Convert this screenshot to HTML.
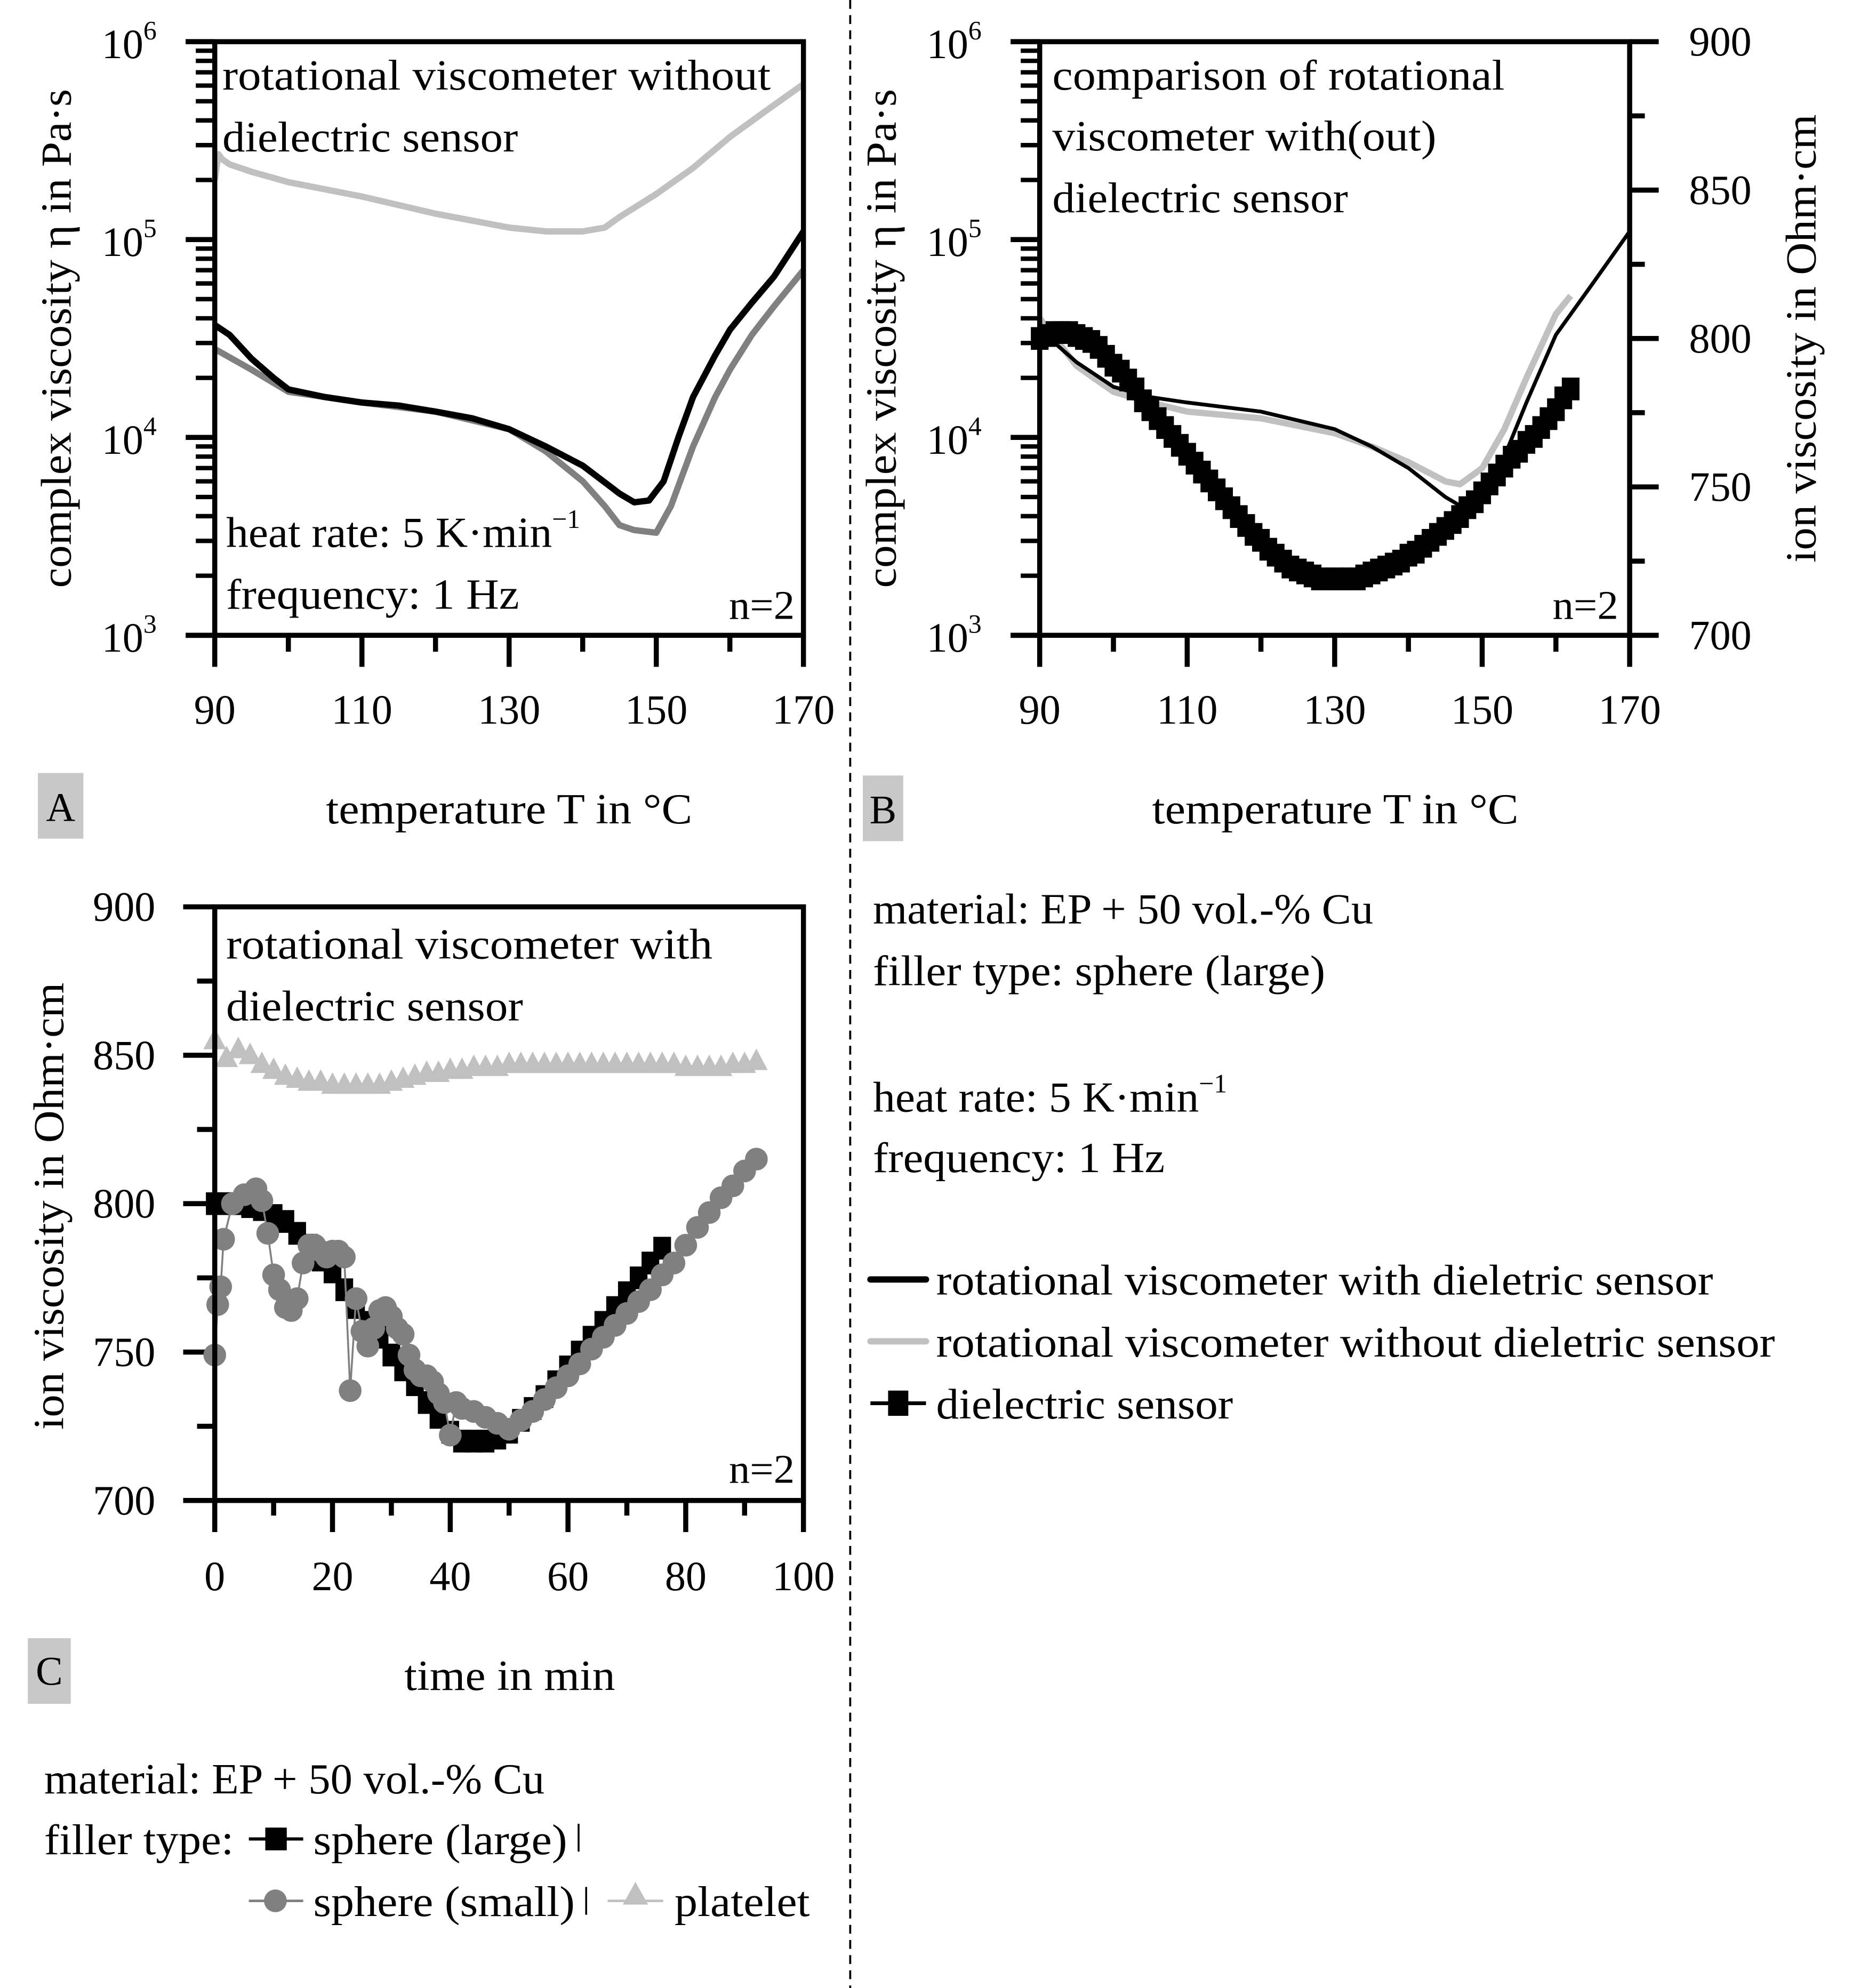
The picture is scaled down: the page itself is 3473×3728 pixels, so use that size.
<!DOCTYPE html>
<html><head><meta charset="utf-8"><style>
html,body{margin:0;padding:0;background:#fff}
svg{display:block}
text{font-family:"Liberation Serif",serif;fill:#000}
</style></head><body>
<svg id="fig" width="3473" height="3728" viewBox="0 0 1466 1574" preserveAspectRatio="none" xmlns="http://www.w3.org/2000/svg">
<rect width="1466" height="1574" fill="#fff"/>
<line x1="673" y1="0" x2="673" y2="1574" stroke="#000" stroke-width="1.6" stroke-dasharray="7,5"/>
<g id="gA"></g>
<g id="gB"></g>
<g id="gC"></g>

<!-- Panel A texts -->
<text x="176" y="71" font-size="34" textLength="434" lengthAdjust="spacingAndGlyphs">rotational viscometer without</text>
<text x="176" y="120" font-size="34" textLength="234" lengthAdjust="spacingAndGlyphs">dielectric sensor</text>
<text x="179" y="433" font-size="34"><tspan textLength="258" lengthAdjust="spacingAndGlyphs">heat rate: 5 K·min</tspan><tspan font-size="21" dy="-15">−1</tspan></text>
<text x="179" y="482" font-size="34" textLength="232" lengthAdjust="spacingAndGlyphs">frequency: 1 Hz</text>
<text x="577" y="490" font-size="32" textLength="52" lengthAdjust="spacingAndGlyphs">n=2</text>
<text transform="translate(56,268) rotate(-90)" text-anchor="middle" font-size="34" textLength="395" lengthAdjust="spacingAndGlyphs">complex viscosity η in Pa·s</text>
<text x="258" y="652" font-size="34" textLength="290" lengthAdjust="spacingAndGlyphs">temperature T in °C</text>
<rect x="30" y="612" width="36" height="52" fill="#c8c8c8"/>
<text x="48" y="650" text-anchor="middle" font-size="32">A</text>

<!-- Panel B texts -->
<text x="833" y="71" font-size="34" textLength="358" lengthAdjust="spacingAndGlyphs">comparison of rotational</text>
<text x="833" y="119" font-size="34" textLength="304" lengthAdjust="spacingAndGlyphs">viscometer with(out)</text>
<text x="833" y="168" font-size="34" textLength="234" lengthAdjust="spacingAndGlyphs">dielectric sensor</text>
<text x="1229" y="490" font-size="32" textLength="52" lengthAdjust="spacingAndGlyphs">n=2</text>
<text transform="translate(709,268) rotate(-90)" text-anchor="middle" font-size="34" textLength="395" lengthAdjust="spacingAndGlyphs">complex viscosity η in Pa·s</text>
<text transform="translate(1437,268) rotate(-90)" text-anchor="middle" font-size="34" textLength="355" lengthAdjust="spacingAndGlyphs">ion viscosity in Ohm·cm</text>
<text x="912" y="652" font-size="34" textLength="290" lengthAdjust="spacingAndGlyphs">temperature T in °C</text>
<rect x="683" y="614" width="32" height="52" fill="#c8c8c8"/>
<text x="699" y="652" text-anchor="middle" font-size="32">B</text>

<!-- Panel C texts -->
<text x="179" y="759" font-size="34" textLength="385" lengthAdjust="spacingAndGlyphs">rotational viscometer with</text>
<text x="179" y="808" font-size="34" textLength="235" lengthAdjust="spacingAndGlyphs">dielectric sensor</text>
<text x="577" y="1174" font-size="32" textLength="52" lengthAdjust="spacingAndGlyphs">n=2</text>
<text transform="translate(50,955) rotate(-90)" text-anchor="middle" font-size="34" textLength="354" lengthAdjust="spacingAndGlyphs">ion viscosity in Ohm·cm</text>
<text x="320" y="1338" font-size="34" textLength="167" lengthAdjust="spacingAndGlyphs">time in min</text>
<rect x="22" y="1297" width="34" height="52" fill="#c8c8c8"/>
<text x="39" y="1334" text-anchor="middle" font-size="32">C</text>

<!-- Right info -->
<text x="691" y="731" font-size="34" textLength="396" lengthAdjust="spacingAndGlyphs">material: EP + 50 vol.-% Cu</text>
<text x="691" y="780" font-size="34" textLength="358" lengthAdjust="spacingAndGlyphs">filler type: sphere (large)</text>
<text x="691" y="880" font-size="34"><tspan textLength="258" lengthAdjust="spacingAndGlyphs">heat rate: 5 K·min</tspan><tspan font-size="21" dy="-15">−1</tspan></text>
<text x="691" y="928" font-size="34" textLength="231" lengthAdjust="spacingAndGlyphs">frequency: 1 Hz</text>
<line x1="689" y1="1013" x2="733" y2="1013" stroke="#000" stroke-width="5" stroke-linecap="round"/>
<text x="741" y="1025" font-size="34" textLength="615" lengthAdjust="spacingAndGlyphs">rotational viscometer with dieletric sensor</text>
<line x1="689" y1="1062" x2="733" y2="1062" stroke="#c0c0c0" stroke-width="5" stroke-linecap="round"/>
<text x="741" y="1074" font-size="34" textLength="664" lengthAdjust="spacingAndGlyphs">rotational viscometer without dieletric sensor</text>
<line x1="689" y1="1111" x2="733" y2="1111" stroke="#000" stroke-width="3"/>
<rect x="703" y="1101" width="16" height="20" fill="#000"/>
<text x="741" y="1123" font-size="34" textLength="235" lengthAdjust="spacingAndGlyphs">dielectric sensor</text>

<!-- Bottom-left legend -->
<text x="35" y="1420" font-size="34" textLength="396" lengthAdjust="spacingAndGlyphs">material: EP + 50 vol.-% Cu</text>
<text x="35" y="1468" font-size="34" textLength="150" lengthAdjust="spacingAndGlyphs">filler type:</text>
<line x1="197" y1="1456" x2="240" y2="1456" stroke="#000" stroke-width="2.5"/>
<rect x="210" y="1447" width="17" height="18" fill="#000"/>
<text x="248" y="1468" font-size="34" textLength="201" lengthAdjust="spacingAndGlyphs">sphere (large)</text>
<line x1="458" y1="1444" x2="458" y2="1466" stroke="#000" stroke-width="1.5"/>
<line x1="197" y1="1505" x2="240" y2="1505" stroke="#808080" stroke-width="2"/>
<circle cx="218" cy="1505" r="9" fill="#808080"/>
<text x="248" y="1517" font-size="34" textLength="207" lengthAdjust="spacingAndGlyphs">sphere (small)</text>
<line x1="464" y1="1494" x2="464" y2="1516" stroke="#000" stroke-width="1.5"/>
<line x1="481" y1="1505" x2="525" y2="1505" stroke="#c0c0c0" stroke-width="2"/>
<polygon points="503,1490 493,1508 513,1508" fill="#c0c0c0"/>
<text x="534" y="1517" font-size="34" textLength="107" lengthAdjust="spacingAndGlyphs">platelet</text>
</svg>
<script>
// ---- Panel A data (temperature °C, viscosity Pa·s) ----
const aBlackT = [90,92,95,98,100,105,110,115,120,125,130,135,140,145,147,149,151,153,155,158,160,163,166,170];
const aBlackV = [37000,33000,25000,20000,17500,16000,15000,14500,13500,12500,11000,9000,7200,5200,4700,4800,6000,10000,16000,26000,35000,48000,65000,110000];
const aDarkT = [90,95,100,105,110,120,130,135,140,143,145,147,150,152,155,158,160,163,166,170];
const aDarkV = [28000,22000,17000,16000,15000,13500,11000,8500,6000,4500,3600,3400,3300,4500,9000,16000,22000,33000,46000,70000];
const aLightT = [90,90.5,91,92,95,100,110,120,130,135,140,143,145,150,155,160,165,170];
const aLightV = [200000,270000,255000,240000,220000,195000,165000,135000,115000,110000,110000,115000,130000,170000,230000,330000,450000,610000];
// ---- Panel B data ----
const bBlackT = [90,95,100,105,110,120,130,135,140,145,148,150,153,156,160,165,170];
const bBlackV = [35000,24000,18000,16000,15000,13500,11000,9000,7000,5000,4300,5000,8000,15000,33000,60000,110000];
const bLightT = [90,95,100,105,110,120,130,135,140,145,147,150,153,156,160,162];
const bLightV = [40000,23000,17000,15000,13500,12500,10500,9000,7500,6000,5800,7000,11000,20000,42000,52000];
const bDielT = [90,91,92,93,94,95,96,97,98,99,100,101,102,103,104,105,106,107,108,109,110,111,112,113,114,115,116,117,118,119,120,121,122,123,124,125,126,127,128,129,130,131,132,133,134,135,136,137,138,139,140,141,142,143,144,145,146,147,148,149,150,151,152,153,154,155,156,157,158,159,160,161,162];
const bDielV = [800,801,802,802,802,801,800,799,797,794,791,789,786,783,779,776,773,770,767,764,761,758,755,752,749,746,743,740,737,734,732,729,727,725,723,722,721,720,719,719,719,719,719,719,720,721,722,723,724,725,727,728,730,732,734,736,738,740,743,745,748,751,754,757,760,762,765,767,770,773,776,780,783];
// ---- Panel C data (time min, ion viscosity Ohm·cm) ----
const cPlatT = [0,2,4,6,8,10,12,14,16,18,20,22,24,26,28,30,32,34,36,38,40,42,44,46,48,50,52,54,56,58,60,62,64,66,68,70,72,74,76,78,80,82,84,86,88,90,92];
const cPlatV = [855,849,852,850,847,845,843,842,841,841,840,840,840,840,840,841,842,843,844,844,845,845,846,846,846,847,847,847,847,847,847,847,847,847,847,847,847,847,847,847,846,846,846,846,847,847,848];
const cLargeT = [0,2,4,6,8,10,12,14,16,18,20,22,24,26,28,30,32,34,36,38,40,42,44,46,48,50,52,54,56,58,60,62,64,66,68,70,72,74,76];
const cLargeV = [800,800,800,799,798,796,794,790,786,781,777,771,765,760,755,749,744,739,733,728,723,720,720,720,721,723,727,731,735,740,745,750,755,760,765,770,775,780,785];
const cSmallT = [0,0.5,1,1.5,3,5,7,8,9,10,11,12,13,14,15,16,17,18,19,20,21,22,23,24,25,26,27,28,29,30,31,32,33,34,35,36,37,38,39,40,41,42,44,46,48,50,52,54,56,58,60,62,64,66,68,70,72,74,76,78,80,82,84,86,88,90,92];
const cSmallV = [749,766,772,788,800,803,805,801,790,776,771,765,764,768,780,786,786,784,782,784,784,782,737,768,757,752,758,764,765,762,758,756,749,744,742,742,740,736,733,722,733,731,730,728,726,724,727,730,734,738,742,746,751,755,759,763,767,771,776,780,786,792,797,802,806,811,815];
// ---- tick labels ----
const tempTicks = [90,110,130,150,170];
const logDecades = [3,4,5,6];
const ionTicks = [700,750,800,850,900];
const timeTicks = [0,20,40,60,80,100];

const NS = 'http://www.w3.org/2000/svg';
function mk(tag, attrs, parent){const e=document.createElementNS(NS,tag);for(const k in attrs)e.setAttribute(k,attrs[k]);parent.appendChild(e);return e;}

const xTA = t => 170 + (t-90)*(636-170)/80;
const xTB = t => 823 + (t-90)*(1290-823)/80;
const yLog = v => 503 - (Math.log10(v)-3)*(503-33)/3;
const yIonB = v => 503 - (v-700)*(503-33)/200;
const xTime = t => 170 + t*(636-170)/100;
const yIonC = v => 1188 - (v-700)*(1188-718)/200;

function pathD(xs, ys, fx, fy){return xs.map((x,i)=>(i?'L':'M')+fx(x).toFixed(1)+','+fy(ys[i]).toFixed(1)).join(' ');}

function box(g,x0,y0,x1,y1){
  const r=mk('rect',{x:x0,y:y0,width:x1-x0,height:y1-y0,fill:'none',stroke:'#000','stroke-width':4},g);
  
  
}
function logAxis(g,x0,prefix){
  for(let d=3; d<=6; d++){
    const t=mk('line',{x1:x0-23,y1:yLog(Math.pow(10,d)),x2:x0,y2:yLog(Math.pow(10,d)),stroke:'#000','stroke-width':4},g);
    
    
    if(d<6) for(let m=2;m<=9;m++){
      const mt=mk('line',{x1:x0-15,y1:yLog(m*Math.pow(10,d)),x2:x0,y2:yLog(m*Math.pow(10,d)),stroke:'#000','stroke-width':3.5},g);
      
      
    }
  }
  logDecades.forEach(d=>{
    const tx=mk('text',{x:x0-46,y:yLog(Math.pow(10,d))+13,'text-anchor':'end','font-size':33},g);
    
    
    tx.textContent='10';
    const sp=mk('tspan',{'font-size':21,dy:-15},tx); sp.textContent=String(d);
  });
}
function tempAxis(g,fx,prefix){
  for(let t=90;t<=170;t+=10){
    const major=(t-90)%20===0;
    const l=mk('line',{x1:fx(t),y1:503,x2:fx(t),y2:major?528:516,stroke:'#000','stroke-width':4},g);
    
    
  }
  tempTicks.forEach(t=>{
    const tx=mk('text',{x:fx(t),y:573,'text-anchor':'middle','font-size':33},g);
    
    
    tx.textContent=String(t);
  });
}
function line(g,xs,ys,fx,fy,color,w,name){
  const p=mk('path',{d:pathD(xs,ys,fx,fy),fill:'none',stroke:color,'stroke-width':w,'stroke-linejoin':'round'},g);
  
  
}

// ---- Panel A ----
const gA=document.getElementById('gA');
mk('line',{x1:147,y1:33,x2:170,y2:33,stroke:'#000','stroke-width':4},gA);
mk('line',{x1:147,y1:503,x2:170,y2:503,stroke:'#000','stroke-width':4},gA);
logAxis(gA,170,'panel-a');
tempAxis(gA,xTA,'panel-a');
line(gA,aLightT,aLightV,xTA,yLog,'#c0c0c0',5,'series-a-without-sensor');
line(gA,aDarkT,aDarkV,xTA,yLog,'#808080',5,'series-a-gray');
line(gA,aBlackT,aBlackV,xTA,yLog,'#000',5,'series-a-black');
box(gA,170,33,636,503);

// ---- Panel B ----
const gB=document.getElementById('gB');
mk('line',{x1:800,y1:33,x2:823,y2:33,stroke:'#000','stroke-width':4},gB);
mk('line',{x1:800,y1:503,x2:823,y2:503,stroke:'#000','stroke-width':4},gB);
logAxis(gB,823,'panel-b');
tempAxis(gB,xTB,'panel-b');
for(let v=700; v<=900; v+=25){
  const major=v%50===0;
  const l=mk('line',{x1:1290,y1:yIonB(v),x2:major?1313:1302,y2:yIonB(v),stroke:'#000','stroke-width':4},gB);
  
  
}
ionTicks.forEach(v=>{
  const tx=mk('text',{x:1337,y:yIonB(v)+11,'font-size':33},gB);
  
  
  tx.textContent=String(v);
});
line(gB,bLightT,bLightV,xTB,yLog,'#c0c0c0',5,'series-b-without-sensor');
line(gB,bBlackT,bBlackV,xTB,yLog,'#000',3,'series-b-with-sensor');
line(gB,bDielT,bDielV,xTB,yIonB,'#000',2,'series-b-dielectric-line');
bDielT.forEach((t,i)=>{
  const s=mk('rect',{x:xTB(t)-7,y:yIonB(bDielV[i])-9,width:14,height:18,fill:'#000'},gB);
  
  
});
box(gB,823,33,1290,503);

// ---- Panel C ----
const gC=document.getElementById('gC');
for(let v=700; v<=900; v+=25){
  const major=v%50===0;
  const l=mk('line',{x1:major?145:156,y1:yIonC(v),x2:170,y2:yIonC(v),stroke:'#000','stroke-width':4},gC);
  
  
}
ionTicks.forEach(v=>{
  const tx=mk('text',{x:123,y:yIonC(v)+11,'text-anchor':'end','font-size':33},gC);
  
  
  tx.textContent=String(v);
});
for(let t=0;t<=100;t+=10){
  const major=t%20===0;
  const l=mk('line',{x1:xTime(t),y1:1188,x2:xTime(t),y2:major?1213:1200,stroke:'#000','stroke-width':4},gC);
  
  
}
timeTicks.forEach(t=>{
  const tx=mk('text',{x:xTime(t),y:1259,'text-anchor':'middle','font-size':33},gC);
  
  
  tx.textContent=String(t);
});
cPlatT.forEach((t,i)=>{
  const x=xTime(t), y=yIonC(cPlatV[i]);
  const p=mk('polygon',{points:`${x},${y-10} ${x-9},${y+7} ${x+9},${y+7}`,fill:'#c0c0c0'},gC);
  
  
});
line(gC,cLargeT,cLargeV,xTime,yIonC,'#000',2,'series-c-large-line');
cLargeT.forEach((t,i)=>{
  const s=mk('rect',{x:xTime(t)-7,y:yIonC(cLargeV[i])-9,width:14,height:18,fill:'#000'},gC);
  
  
});
line(gC,cSmallT,cSmallV,xTime,yIonC,'#808080',1.5,'series-c-small-line');
cSmallT.forEach((t,i)=>{
  const c=mk('circle',{cx:xTime(t),cy:yIonC(cSmallV[i]),r:9,fill:'#808080'},gC);
  
  
});
box(gC,170,718,636,1188);
</script>
</body></html>
